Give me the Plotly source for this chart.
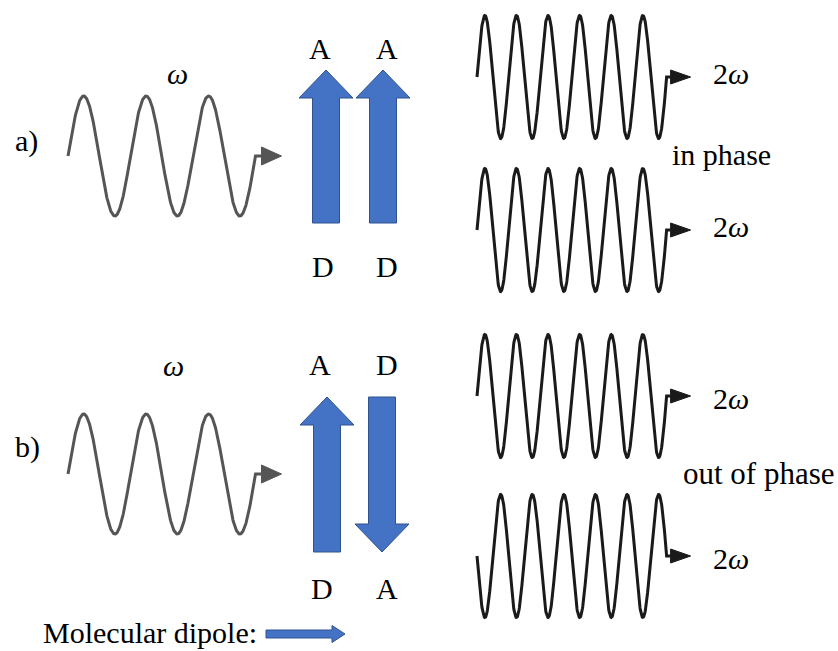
import numpy as np
import plotly.graph_objects as go

W, H = 838, 651

# ---- data ----
# incident waves (frequency omega): start x, period, amplitude, cycles, centre y
in_x0 = 68
in_period = 62.5
in_amp = 60
in_cycles = 3
in_centers = [156, 474]

# generated waves (2 omega)
out_x0 = 477
out_period = 31.6
out_amp = 61.5
out_cycles = 6
out_centers = [77, 230, 396, 556]
out_phase = [1, 1, 1, -1]   # +1 starts upward, -1 starts downward

# molecular dipole arrows: x centre, tail y, tip y
dip_x = [326, 383, 327, 382]
dip_tail = [223, 223, 552, 397]
dip_tip = [70, 70, 397, 552]

labels_text = ["A", "A", "D", "D", "A", "D", "D", "A"]
labels_x = [320, 387, 323, 387, 320, 387, 322, 387]
labels_y = [48, 48, 266, 266, 364, 364, 588, 588]

BLUE = "#4472C4"
BLUE_EDGE = "#2F528F"
FONT = "Liberation Serif"

fig = go.Figure()


def wave(x0, period, amp, cycles, cy, sign, color, width, ahead_len, ahead_hw, gap):
    n = 600
    x = np.linspace(x0, x0 + cycles * period, n)
    y = cy - sign * amp * np.sin(2 * np.pi * (x - x0) / period)
    xe = x[-1]
    x = np.append(x, xe + gap)
    y = np.append(y, cy)
    fig.add_trace(go.Scatter(x=x, y=y, mode="lines",
                             line=dict(color=color, width=width),
                             hoverinfo="skip", showlegend=False))
    bx = xe + gap
    fig.add_trace(go.Scatter(x=[bx, bx + ahead_len, bx, bx],
                             y=[cy - ahead_hw, cy, cy + ahead_hw, cy - ahead_hw],
                             mode="lines", fill="toself", fillcolor=color,
                             line=dict(color=color, width=1),
                             hoverinfo="skip", showlegend=False))


for cy in in_centers:
    wave(in_x0, in_period, in_amp, in_cycles, cy, 1, "#555555", 3, 20, 9, 6)

for cy, s in zip(out_centers, out_phase):
    wave(out_x0, out_period, out_amp, out_cycles, cy, s, "#1a1a1a", 3, 20, 7, 4)


def block_arrow_v(cx, tail, tip, shaft_hw=13.5, head_hw=27, head_len=28):
    d = 1 if tip > tail else -1
    hb = tip - d * head_len
    xs = [cx - shaft_hw, cx - shaft_hw, cx - head_hw, cx, cx + head_hw,
          cx + shaft_hw, cx + shaft_hw, cx - shaft_hw]
    ys = [tail, hb, hb, tip, hb, hb, tail, tail]
    fig.add_trace(go.Scatter(x=xs, y=ys, mode="lines", fill="toself",
                             fillcolor=BLUE, line=dict(color=BLUE_EDGE, width=1),
                             hoverinfo="skip", showlegend=False))


for cx, t0, t1 in zip(dip_x, dip_tail, dip_tip):
    block_arrow_v(cx, t0, t1)

# legend arrow (horizontal)
lx0, lx1, ly = 266, 345, 634
shw, hhw, hl = 4, 8.5, 13
fig.add_trace(go.Scatter(
    x=[lx0, lx1 - hl, lx1 - hl, lx1, lx1 - hl, lx1 - hl, lx0, lx0],
    y=[ly - shw, ly - shw, ly - hhw, ly, ly + hhw, ly + shw, ly + shw, ly - shw],
    mode="lines", fill="toself", fillcolor=BLUE, line=dict(color=BLUE_EDGE, width=1),
    hoverinfo="skip", showlegend=False))


def txt(x, y, s, size=30, xanchor="center"):
    fig.add_annotation(x=x, y=y, text=s, showarrow=False, xref="x", yref="y",
                       xanchor=xanchor, yanchor="middle",
                       font=dict(family=FONT, size=size, color="black"))


for t, x, y in zip(labels_text, labels_x, labels_y):
    txt(x, y, t)

txt(13, 141, "a)", xanchor="left")
txt(13, 447, "b)", xanchor="left")
txt(177, 73, "<i>ω</i>")
txt(173, 365, "<i>ω</i>")
for cy in out_centers:
    txt(711, cy - 4 if cy < 300 else cy + 2, "2<i>ω</i>", xanchor="left")
txt(670, 154, "in phase", xanchor="left")
txt(681, 473, "out of phase", size=31, xanchor="left")
txt(41, 632, "Molecular dipole:", xanchor="left")

fig.update_layout(
    width=W, height=H,
    margin=dict(l=0, r=0, t=0, b=0),
    paper_bgcolor="white", plot_bgcolor="white",
    xaxis=dict(range=[0, W], visible=False, fixedrange=True),
    yaxis=dict(range=[H, 0], visible=False, fixedrange=True),
    showlegend=False,
)

fig.write_html("out.html", config={"displayModeBar": False},
               post_script="document.body.style.margin='0px';document.body.style.overflow='hidden';")
